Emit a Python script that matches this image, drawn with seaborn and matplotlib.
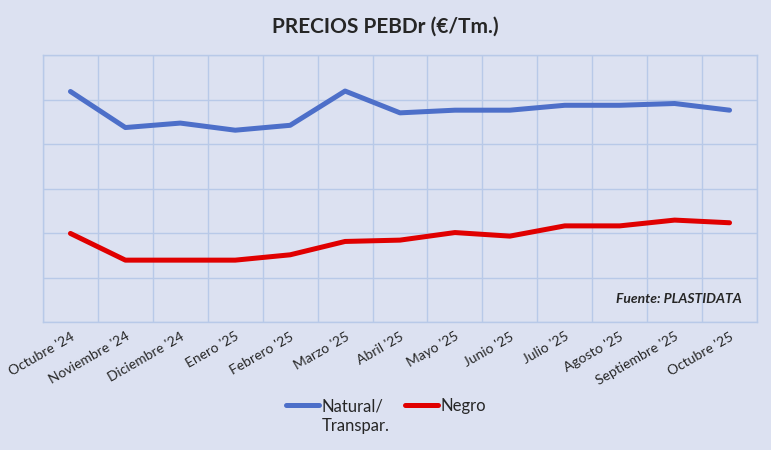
import numpy as np
import pandas as pd
import seaborn as sns
import matplotlib.pyplot as plt

# months on the x axis
meses = ["Octubre '24", "Noviembre '24", "Diciembre '24", "Enero '25", "Febrero '25",
         "Marzo '25", "Abril '25", "Mayo '25", "Junio '25", "Julio '25",
         "Agosto '25", "Septiembre '25", "Octubre '25"]

# prices (no axis labels on the original, values read in grid units)
natural = [1318, 1237, 1247, 1231, 1242, 1319, 1270, 1276, 1276, 1287, 1287, 1291, 1276]
negro = [999, 939, 939, 939, 951, 981, 984, 1001, 993, 1016, 1016, 1029, 1023]

bg = "#DCE1F1"
grid_c = "#B8C9E8"

sns.set_theme(style="whitegrid")
plt.rcParams['font.family'] = ['Lato', 'DejaVu Sans']

df = pd.DataFrame({"mes": meses * 2,
                   "precio": natural + negro,
                   "serie": ["Natural/"] * len(meses) + ["Negro"] * len(meses)})
df["x"] = list(range(len(meses))) * 2

fig = plt.figure(figsize=(7.71, 4.5), dpi=100, facecolor=bg)
ax = fig.add_axes([43 / 771, 1 - 322 / 450, 714 / 771, 267 / 450])
ax.set_facecolor(bg)

sns.lineplot(data=df, x="x", y="precio", hue="serie",
             palette=["#4D6FC9", "#E00000"], linewidth=3.6, ax=ax,
             solid_capstyle="round", legend=True)

ax.set_xlim(-0.5, len(meses) - 0.5)
ax.set_ylim(800, 1400)
ax.set_yticks(np.arange(800, 1401, 100))
ax.set_yticklabels([])
ax.set_xticks(np.arange(-0.5, len(meses), 1))
ax.set_xticklabels([])
ax.set_xticks(range(len(meses)), minor=True)
ax.set_xticklabels(meses, minor=True, rotation=30, ha="right", rotation_mode="anchor",
                   fontsize=10)
ax.tick_params(axis="x", which="both", length=0, pad=6)
ax.tick_params(axis="y", length=0)
ax.grid(True, color=grid_c, linewidth=1)
ax.set_xlabel("")
ax.set_ylabel("")
for s in ax.spines.values():
    s.set_color(grid_c)
    s.set_linewidth(1)

ax.text(0.978, 0.085, "Fuente: PLASTIDATA", transform=ax.transAxes, ha="right",
        va="center", fontsize=10, fontweight="bold", style="italic")

fig.text(0.5, 1 - 27 / 450, "PRECIOS PEBDr (€/Tm.)", ha="center", va="center",
         fontsize=15, fontweight="bold")

handles, labels = ax.get_legend_handles_labels()
ax.get_legend().remove()
leg = fig.legend(handles, labels, loc="center", bbox_to_anchor=(386 / 771, 1 - 406 / 450),
                 ncol=2, frameon=False, fontsize=12, handlelength=2.0,
                 handletextpad=0.15, columnspacing=1.3)

# second line of the first legend label
fig.canvas.draw()
bb = leg.get_texts()[0].get_window_extent()
fig.text(bb.x0 / fig.bbox.width, (bb.y0 - 4) / fig.bbox.height, "Transpar.",
         ha="left", va="top", fontsize=12)

fig.savefig("out.png", dpi=100, facecolor=bg)
